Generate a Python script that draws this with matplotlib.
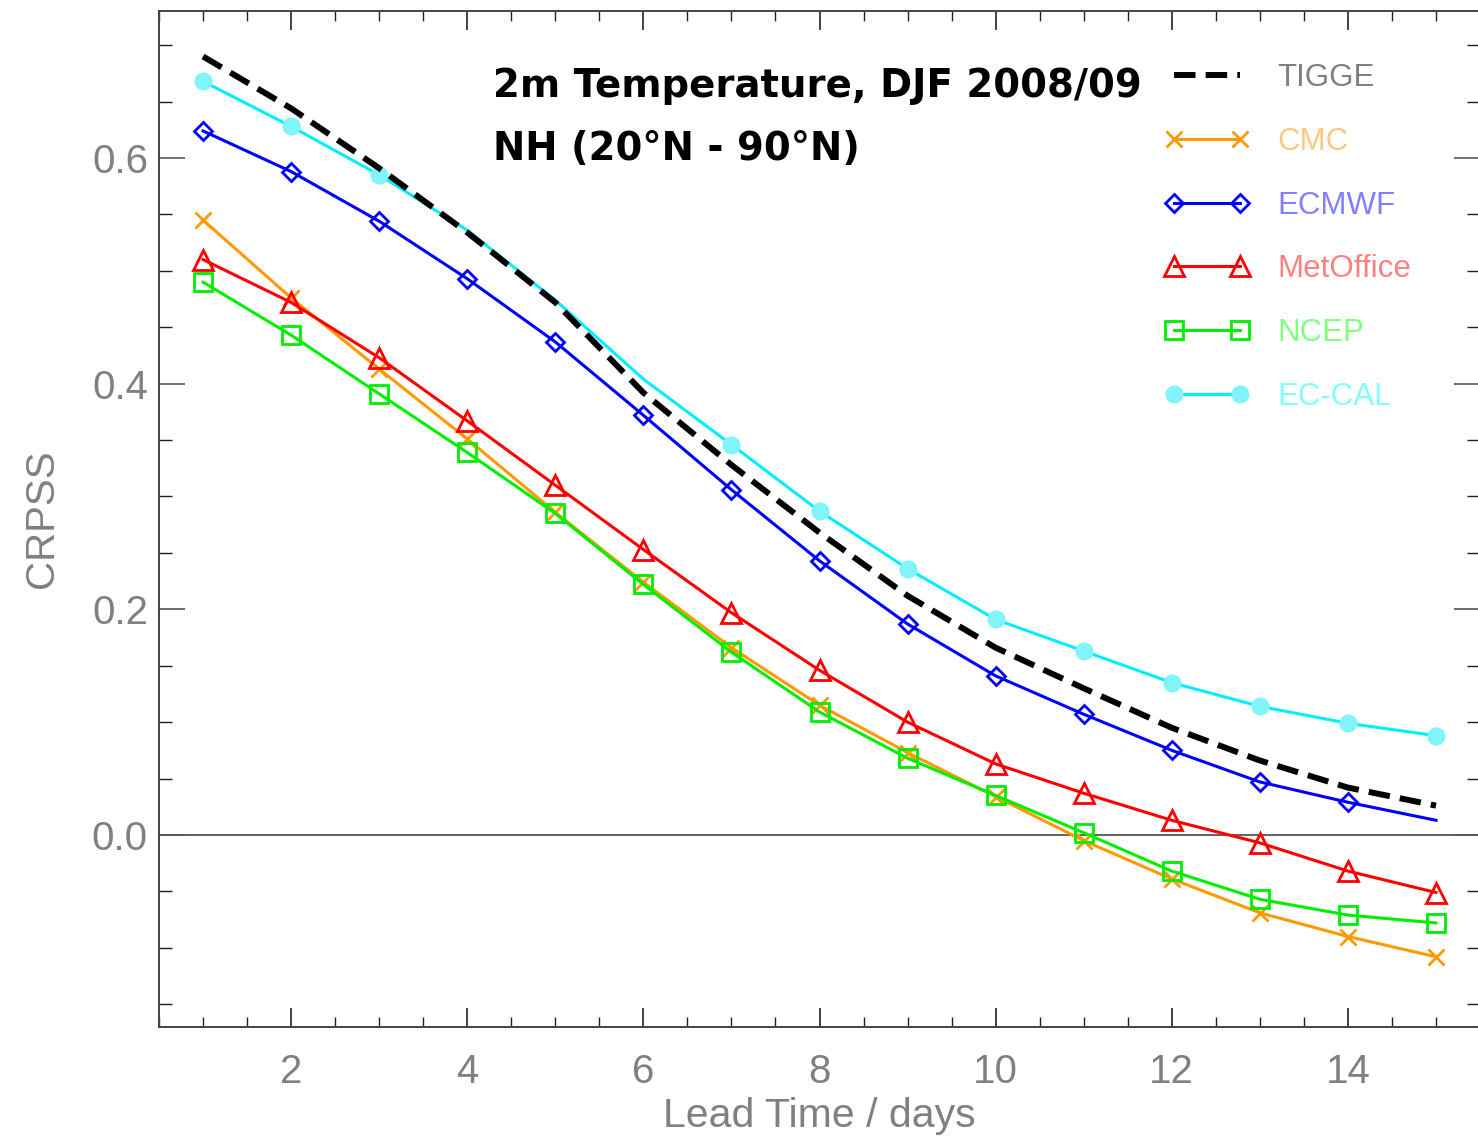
import matplotlib
matplotlib.use("Agg")
import matplotlib.pyplot as plt
from matplotlib.ticker import MultipleLocator
import numpy as np

days = list(range(1, 16))
tigge = [0.690, 0.644, 0.591, 0.534, 0.472, 0.392, 0.328, 0.268, 0.212, 0.166, 0.130, 0.095, 0.066, 0.042, 0.026]
cmc = [0.545, 0.476, 0.413, 0.351, 0.286, 0.224, 0.166, 0.115, 0.073, 0.034, -0.005, -0.039, -0.069, -0.090, -0.108]
ecmwf = [0.624, 0.588, 0.544, 0.493, 0.437, 0.372, 0.306, 0.243, 0.187, 0.141, 0.107, 0.075, 0.047, 0.029, 0.013]
metoffice = [0.510, 0.472, 0.423, 0.367, 0.310, 0.253, 0.197, 0.146, 0.100, 0.063, 0.037, 0.013, -0.007, -0.032, -0.051]
ncep = [0.490, 0.443, 0.391, 0.339, 0.285, 0.222, 0.162, 0.109, 0.068, 0.035, 0.002, -0.032, -0.057, -0.071, -0.078]
eccal = [0.668, 0.628, 0.585, 0.536, 0.474, 0.404, 0.346, 0.287, 0.236, 0.191, 0.163, 0.135, 0.114, 0.099, 0.088]

labels = ["TIGGE", "CMC", "ECMWF", "MetOffice", "NCEP", "EC-CAL"]
label_colors = ["#808080", "#ffc880", "#8080ff", "#ff8080", "#80ff80", "#80ffff"]
title1 = "2m Temperature, DJF 2008/09"
title2 = "NH (20°N - 90°N)"

W, H = 1478, 1139
fig = plt.figure(figsize=(W / 100, H / 100), dpi=100)
ax = fig.add_axes([159 / W, 1 - 1027 / H, (1480 - 159) / W, (1027 - 11) / H])

sans = ["Liberation Sans", "DejaVu Sans"]
lw = 2.2
ax.plot(days, cmc, color="#ff9900", lw=lw, marker="x", ms=12, mew=2.0, label=labels[1], zorder=3)
ax.plot(days, ecmwf, color="#0000ff", lw=lw, marker="D", ms=9, mew=2.0, mfc="none",
        markevery=slice(0, 14), label=labels[2], zorder=3)
ax.plot(days, metoffice, color="#ff0000", lw=lw, marker="^", ms=14, mew=2.0, mfc="none", label=labels[3], zorder=3)
ax.plot(days, ncep, color="#00ee00", lw=lw, marker="s", ms=13, mew=2.0, mfc="none", label=labels[4], zorder=3)
ax.plot(days, eccal, color="#00eeff", lw=lw, marker="o", ms=12, mfc="#80f4f8", mec="#80f4f8",
        markevery=[0, 1, 2, 6, 7, 8, 9, 10, 11, 12, 13, 14], label=labels[5], zorder=3)
ax.plot(days, tigge, color="black", lw=4.3, dashes=(3.6, 1.7), label=labels[0], zorder=4)

ax.axhline(0, color="#555555", lw=1.3, zorder=1)

ax.set_xlim(0.5, 15.5)
ax.set_ylim(-0.1702, 0.7303)
ax.xaxis.set_major_locator(MultipleLocator(2))
ax.xaxis.set_minor_locator(MultipleLocator(0.5))
ax.yaxis.set_major_locator(MultipleLocator(0.2))
ax.yaxis.set_minor_locator(MultipleLocator(0.05))
ax.yaxis.set_major_formatter(matplotlib.ticker.FormatStrFormatter("%.1f"))

ax.tick_params(axis="x", which="major", direction="in", length=14, width=1.2, top=True, bottom=True,
               pad=19, labelsize=29, labelcolor="#808080", color="#222222")
ax.tick_params(axis="x", which="minor", direction="in", length=7, width=1.0, top=True, bottom=True, color="#222222")
ax.tick_params(axis="y", which="major", direction="in", length=19, width=1.2, left=True, right=True,
               pad=8, labelsize=29, labelcolor="#808080", color="#555555")
ax.tick_params(axis="y", which="minor", direction="in", length=9.5, width=1.0, left=True, right=True, color="#222222")
for lab in ax.get_xticklabels() + ax.get_yticklabels():
    lab.set_family(sans)

for s in ax.spines.values():
    s.set_color("#444444")
    s.set_linewidth(1.4)

ax.set_xlabel("Lead Time / days", fontsize=29.5, color="#808080", family=sans, labelpad=4)
ax.set_ylabel("CRPSS", fontsize=29, color="#808080", family=sans, labelpad=22)

fig.text(493 / W, 1 - 97 / H, title1, fontsize=27.8, fontweight="bold", family="DejaVu Sans",
         va="baseline", ha="left")
fig.text(493 / W, 1 - 160 / H, title2, fontsize=27.8, fontweight="bold", family="DejaVu Sans",
         va="baseline", ha="left")

handles, labs = ax.get_legend_handles_labels()
order = [5, 0, 1, 2, 3, 4]
leg = ax.legend([handles[i] for i in order], [labs[i] for i in order],
                loc="upper left", bbox_to_anchor=(1165 / W, 1 - 63 / H), bbox_transform=fig.transFigure,
                frameon=False, numpoints=2, handlelength=2.7, handletextpad=0.9, labelspacing=1.08,
                borderpad=0, borderaxespad=0, prop={"family": sans, "size": 22.5})
for t, c in zip(leg.get_texts(), label_colors):
    t.set_color(c)
# legend handles should show both end markers
for h in leg.legend_handles:
    try:
        h.set_markevery(None)
    except Exception:
        pass

fig.savefig("out.png", dpi=100)
